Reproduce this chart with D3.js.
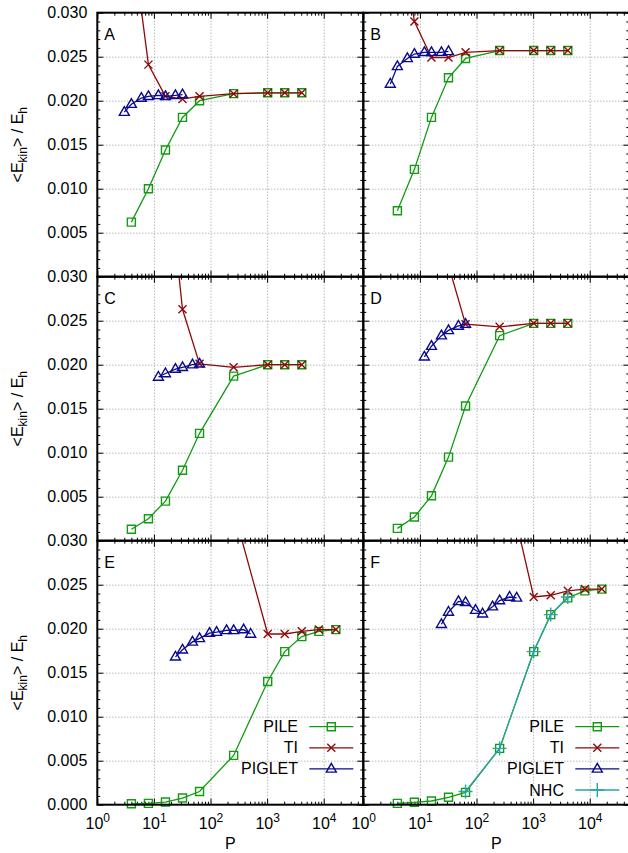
<!DOCTYPE html>
<html><head><meta charset="utf-8">
<script src="https://cdn.jsdelivr.net/npm/d3@7"></script>
<style>
body{margin:0;background:#fff}
svg{display:block}
text{font-family:"Liberation Sans",Arial,sans-serif;fill:#000}
</style>
</head><body>
<svg id="c" width="628" height="853"></svg>
<script>
// ---------- DATA ----------
const panelLabels = ["A","B","C","D","E","F"];
const seriesNames = ["PILE","TI","PIGLET","NHC"];
const xTickLabels = [1,10,100,1000,10000];
const yTickLabels = [0,0.005,0.010,0.015,0.020,0.025,0.030];

const pileP_short = [4,8,16,32,64,256,1024,2048,4096];
const pileP_long  = [4,8,16,32,64,256,1024,2048,4096,8192,16384];
const pigletP_AB  = [3,4,6,8,12,16,24,32];
const pigletP_CD  = [12,16,24,32,48,64];
const pigletP_EF  = [24,32,48,64,96,128,192,256,384,512];
const tiP_AB = [4,8,16,32,64,256,1024,2048,4096];
const tiP_C  = [16,32,64,256,1024,2048,4096];
const tiP_D  = [32,64,256,1024,2048,4096];
const tiP_EF = [256,1024,2048,4096,8192,16384];
const nhcP_F = [64,256,1024,2048,4096];

const A_pile   = [0.0062,0.0100,0.0144,0.0181,0.0200,0.0208,0.0209,0.0209,0.0209];
const A_ti     = [0.0390,0.0241,0.0205,0.0202,0.0205,0.0208,0.0209,0.0209,0.0209];
const A_piglet = [0.0187,0.0196,0.0203,0.0205,0.0206,0.0205,0.0206,0.0207];

const B_pile   = [0.0075,0.0122,0.0181,0.0226,0.0248,0.0257,0.0257,0.0257,0.0257];
const B_ti     = [0.0420,0.0290,0.0249,0.0249,0.0255,0.0257,0.0257,0.0257,0.0257];
const B_piglet = [0.0219,0.0239,0.0248,0.0253,0.0255,0.0255,0.0255,0.0256];

const C_pile   = [0.0013,0.0025,0.0045,0.0080,0.0122,0.0187,0.0200,0.0200,0.0200];
const C_ti     = [0.0447,0.0263,0.0201,0.0197,0.0200,0.0200,0.0200];
const C_piglet = [0.0186,0.0190,0.0195,0.0197,0.0200,0.0201];

const D_pile   = [0.0014,0.0027,0.0051,0.0095,0.0153,0.0233,0.0247,0.0247,0.0247];
const D_ti     = [0.0313,0.0246,0.0243,0.0247,0.0247,0.0247];
const D_piglet = [0.0209,0.0221,0.0233,0.0239,0.0244,0.0246];

const E_pile   = [0.0001,0.00015,0.0003,0.00076,0.0015,0.0056,0.0140,0.0174,0.0191,0.0197,0.0199];
const E_ti     = [0.0335,0.0194,0.0194,0.0197,0.0199,0.0199];
const E_piglet = [0.0168,0.0176,0.0185,0.0189,0.0195,0.0196,0.0198,0.0198,0.0199,0.0194];

const F_pile   = [0.00015,0.00027,0.00042,0.00084,0.0014,0.0064,0.0174,0.0216,0.0235,0.0243,0.0245];
const F_ti     = [0.0404,0.0236,0.0238,0.0243,0.0245,0.0245];
const F_piglet = [0.0205,0.0219,0.0231,0.0230,0.0221,0.0217,0.0225,0.0232,0.0236,0.0235];
const F_nhc    = [0.0015,0.0064,0.0174,0.0216,0.0236];

// ---------- BUILD ----------
const colors = {PILE:"#139a13", TI:"#8e0a0a", PIGLET:"#0a0a8e", NHC:"#2aa3a3"};
const zip = (P,v)=>P.map((p,i)=>({P:p,v:v[i]}));
const panels = [
  {label:"A",col:0,row:0,series:[["PILE",pileP_short,A_pile],["TI",tiP_AB,A_ti],["PIGLET",pigletP_AB,A_piglet]]},
  {label:"B",col:1,row:0,series:[["PILE",pileP_short,B_pile],["TI",tiP_AB,B_ti],["PIGLET",pigletP_AB,B_piglet]]},
  {label:"C",col:0,row:1,series:[["PILE",pileP_short,C_pile],["TI",tiP_C,C_ti],["PIGLET",pigletP_CD,C_piglet]]},
  {label:"D",col:1,row:1,series:[["PILE",pileP_short,D_pile],["TI",tiP_D,D_ti],["PIGLET",pigletP_CD,D_piglet]]},
  {label:"E",col:0,row:2,legend:["PILE","TI","PIGLET"],series:[["PILE",pileP_long,E_pile],["TI",tiP_EF,E_ti],["PIGLET",pigletP_EF,E_piglet]]},
  {label:"F",col:1,row:2,legend:["PILE","TI","PIGLET","NHC"],series:[["PILE",pileP_long,F_pile],["TI",tiP_EF,F_ti],["PIGLET",pigletP_EF,F_piglet],["NHC",nhcP_F,F_nhc]]}
];

const svg = d3.select("#c");
const L=97.3, T=12.7, PW=266, PH=264;
const x = d3.scaleLog().domain([1,5e4]).range([0,PW]);
const y = d3.scaleLinear().domain([0,0.03]).range([PH,0]);

const minorX=[]; [1,10,100,1000,10000].forEach(d=>{for(let m=2;m<=9;m++){const v=d*m; if(v<5e4) minorX.push(v);}});
const minorY=d3.range(1,30).filter(i=>i%5!==0).map(i=>i/1000);
const gridX=[10,100,1000,10000];
const gridY=[0.005,0.010,0.015,0.020,0.025];

function markerPath(name){
  if(name==="PILE") return "M-4,-4H4V4H-4Z";
  if(name==="TI") return "M-4,-4L4,4M-4,4L4,-4";
  if(name==="PIGLET") return "M0,-5.5L5,3.2L-5,3.2Z";
  if(name==="NHC") return "M-7,0H7M0,-7V7";
}

function styleAxis(g){
  g.select(".domain").remove();
  g.selectAll(".tick line").attr("stroke","#000").attr("stroke-width",1);
}

panels.forEach((p,pi)=>{
  const g = svg.append("g").attr("transform",`translate(${L+p.col*PW},${T+p.row*PH})`);
  const cid="clip"+pi;
  g.append("clipPath").attr("id",cid).append("rect").attr("width",PW).attr("height",PH);

  // grid
  const gx = g.append("g").attr("transform",`translate(0,${PH})`)
    .call(d3.axisBottom(x).tickValues(gridX).tickSize(-PH).tickFormat(""));
  gx.select(".domain").remove();
  gx.selectAll(".tick line").attr("stroke","#9a9a9a").attr("stroke-dasharray","1,2");
  const gy = g.append("g")
    .call(d3.axisLeft(y).tickValues(gridY).tickSize(-PW).tickFormat(""));
  gy.select(".domain").remove();
  gy.selectAll(".tick line").attr("stroke","#9a9a9a").attr("stroke-dasharray","1,2");

  // ticks (inside, all four sides)
  const tickSets = [
    [d3.axisBottom(x).tickValues(xTickLabels).tickSizeInner(-6), `translate(0,${PH})`],
    [d3.axisBottom(x).tickValues(minorX).tickSizeInner(-3), `translate(0,${PH})`],
    [d3.axisTop(x).tickValues(xTickLabels).tickSizeInner(-6), `translate(0,0)`],
    [d3.axisTop(x).tickValues(minorX).tickSizeInner(-3), `translate(0,0)`],
    [d3.axisLeft(y).tickValues(yTickLabels).tickSizeInner(-6), `translate(0,0)`],
    [d3.axisLeft(y).tickValues(minorY).tickSizeInner(-3), `translate(0,0)`],
    [d3.axisRight(y).tickValues(yTickLabels).tickSizeInner(-6), `translate(${PW},0)`],
    [d3.axisRight(y).tickValues(minorY).tickSizeInner(-3), `translate(${PW},0)`]
  ];
  tickSets.forEach(([ax,tr])=>{
    const t=g.append("g").attr("transform",tr).call(ax.tickFormat(""));
    styleAxis(t);
  });

  // series
  p.series.forEach(([name,P,v])=>{
    const data = zip(P,v);
    g.append("path").datum(data)
      .attr("clip-path",`url(#${cid})`)
      .attr("fill","none").attr("stroke",colors[name]).attr("stroke-width",1.3)
      .attr("d",d3.line().x(d=>x(d.P)).y(d=>y(d.v)));
    g.append("g").selectAll("path").data(data.filter(d=>d.v<=0.03)).join("path")
      .attr("transform",d=>`translate(${x(d.P)},${y(d.v)})`)
      .attr("d",markerPath(name))
      .attr("fill","none").attr("stroke",colors[name]).attr("stroke-width",1.4);
  });

  // frame
  g.append("rect").attr("width",PW).attr("height",PH)
    .attr("fill","none").attr("stroke","#000").attr("stroke-width",2);

  // panel letter
  g.append("text").attr("x",7).attr("y",27).attr("font-size",16).text(p.label);

  // y labels
  if(p.col===0){
    const yl = g.append("g").call(d3.axisLeft(y)
      .tickValues(p.row<2 ? yTickLabels.slice(1) : yTickLabels)
      .tickSize(0).tickPadding(10).tickFormat(d3.format(".3f")));
    yl.select(".domain").remove();
    yl.selectAll("text").attr("font-size",16).attr("font-family","Liberation Sans, Arial, sans-serif");
    const yt = g.append("text").attr("transform",`translate(${23-L},${PH/2}) rotate(-90)`)
      .attr("text-anchor","middle").attr("font-size",16);
    yt.append("tspan").text("<E");
    yt.append("tspan").attr("font-size",12).attr("dy",4).text("kin");
    yt.append("tspan").attr("dy",-4).text("> / E");
    yt.append("tspan").attr("font-size",12).attr("dy",4).text("h");
  }
  // x labels
  if(p.row===2){
    const xl = g.append("g").attr("transform",`translate(0,${PH})`).call(d3.axisBottom(x)
      .tickValues(xTickLabels).tickSize(0).tickPadding(13).tickFormat(""));
    xl.select(".domain").remove();
    xl.selectAll("text").attr("font-size",16).attr("font-family","Liberation Sans, Arial, sans-serif")
      .each(function(d){
        const t=d3.select(this);
        t.append("tspan").text("10");
        t.append("tspan").attr("font-size",12).attr("dy",-7).text(Math.round(Math.log10(d)));
      });
    g.append("text").attr("x",PW/2).attr("y",PH+44).attr("text-anchor","middle").attr("font-size",16).text("P");
  }
  // legend
  if(p.legend){
    p.legend.forEach((name,i)=>{
      const ly = 186 + i*21.1;
      g.append("text").attr("x",200.7).attr("y",ly).attr("dy","0.35em")
        .attr("text-anchor","end").attr("font-size",16).text(name);
      g.append("line").attr("x1",212).attr("x2",256).attr("y1",ly).attr("y2",ly)
        .attr("stroke",colors[name]).attr("stroke-width",1.3);
      g.append("path").attr("transform",`translate(234,${ly})`).attr("d",markerPath(name))
        .attr("fill","none").attr("stroke",colors[name]).attr("stroke-width",1.4);
    });
  }
});
</script>
</body></html>
